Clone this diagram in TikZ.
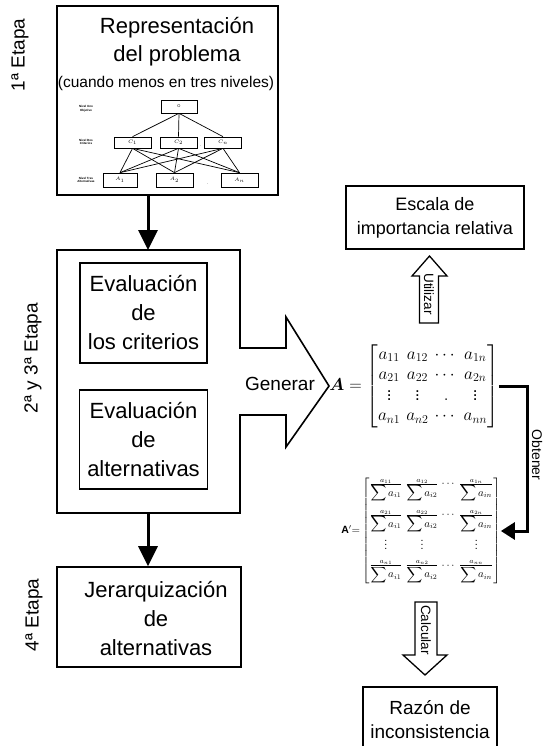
\documentclass[tikz,border=0pt]{standalone}
\usepackage{amsmath}
\usepackage{bm}
\usepackage{fontspec}
\setmainfont{Liberation Sans}
\usetikzlibrary{arrows.meta}

\begin{document}
\begin{tikzpicture}[x=1pt,y=-1pt,
    caja/.style={draw,line width=1.6pt,align=center,inner sep=0pt},
    minicaja/.style={draw,line width=0.7pt,inner sep=0pt,minimum width=37pt,minimum height=11pt,font=\fontsize{4}{4}\selectfont},
    nivel/.style={align=center,font=\fontsize{3}{3.6}\selectfont\bfseries},
    texto/.style={align=center,font=\fontsize{22}{29}\selectfont},
    etapa/.style={rotate=90,font=\fontsize{19}{19}\selectfont},
    flecha/.style={line width=3pt,-{Triangle[width=19pt,length=20pt]}},
    hueca/.style={draw,line width=1.3pt,line join=miter}]
  \useasboundingbox (0,0) rectangle (545,746);

  % etapas
  \node[etapa] (e1) at (20,55) {1ª Etapa};
  \node[etapa] (e2) at (33,358) {2ª y 3ª Etapa};
  \node[etapa] (e4) at (34,615) {4ª Etapa};

  % 1a etapa: representacion del problema
  \node[caja,minimum width=221pt,minimum height=189pt] (prob) at (167.5,100.5) {};
  \node[texto,font=\fontsize{22}{28}\selectfont] (titulo) at (177,42) {Representación\\del problema};
  \node[font=\fontsize{15.5}{18}\selectfont] (subtit) at (166,83) {(cuando menos en tres niveles)};
  \node[nivel] (n1) at (86,109) {Nivel Uno\\Objetivo};
  \node[nivel] (n2) at (86,142) {Nivel Dos\\Criterios};
  \node[nivel] (n3) at (86,180) {Nivel Tres\\Alternativas};
  \node[minicaja,minimum width=36pt,minimum height=13pt] (obj) at (179,106.5) {O};
  \node[minicaja] (c1) at (132.5,142.5) {$C_1$};
  \node[minicaja] (c2) at (178.5,142.5) {$C_2$};
  \node[minicaja] (c3) at (223,142.5) {$C_n$};
  \node[minicaja,minimum width=34pt,minimum height=14pt] (a1) at (120,180) {$A_1$};
  \node[minicaja,minimum width=37pt,minimum height=14pt] (a2) at (174.5,180) {$A_2$};
  \node[minicaja,minimum width=37pt,minimum height=14pt] (a3) at (239.5,180) {$A_n$};
  \node[font=\fontsize{4}{4}\selectfont] (p1) at (201,146) {.};
  \node[font=\fontsize{4}{4}\selectfont] (p2) at (208,184) {.};
  \foreach \c in {c1,c2,c3}
    \draw[line width=0.7pt] (obj.south) -- (\c.north);
  \foreach \c in {c1,c2,c3}
    \foreach \a in {a1,a2,a3}
      \draw[line width=0.7pt] (\c.south) -- (\a.north);

  % 2a y 3a etapa: evaluacion
  \draw[line width=1.6pt,line join=miter] (57,250) -- (240,250) -- (240,348) -- (286,348) -- (286,317)
    -- (329,386) -- (286,447) -- (286,415) -- (240,415) -- (240,513) -- (57,513) -- cycle;
  \coordinate (evalarriba) at (148,250);
  \coordinate (evalabajo) at (148,513);
  \node[caja,texto,minimum width=127pt,minimum height=100pt] (crit) at (143.5,313) {Evaluación\\de\\los criterios};
  \node[caja,texto,minimum width=128pt,minimum height=99pt] (alt) at (143.5,439.5) {Evaluación\\de\\alternativas};
  \node[font=\fontsize{19}{19}\selectfont] (generar) at (280,384) {Generar};

  % 4a etapa
  \node[caja,minimum width=184pt,minimum height=100pt] (jerarq) at (149,617) {};
  \node[texto] (jerarqtxt) at (156,618) {Jerarquización\\de\\alternativas};

  \draw[flecha] (evalarriba |- prob.south) -- (evalarriba);
  \draw[flecha] (evalabajo) -- (evalabajo |- jerarq.north);

  % matrices
  \node[inner sep=0pt,font=\fontsize{17}{20}\selectfont\setlength{\arraycolsep}{3pt}] (matA) at (414,386)
    {$\bm{A}=\begin{bmatrix} a_{11} & a_{12} & \cdots & a_{1n}\\ a_{21} & a_{22} & \cdots & a_{2n}\\ \vdots & \vdots & . & \vdots\\ a_{n1} & a_{n2} & \cdots & a_{nn}\end{bmatrix}$};
  \node[inner sep=0pt,font=\fontsize{10.5}{12}\selectfont\setlength{\arraycolsep}{1.5pt}] (matAp) at (421,531)
    {$\mathbf{A'}{=}\begin{bmatrix}
      \frac{a_{11}}{\displaystyle\sum a_{i1}} & \frac{a_{12}}{\displaystyle\sum a_{i2}} & \cdots & \frac{a_{1n}}{\displaystyle\sum a_{in}}\\[19pt]
      \frac{a_{21}}{\displaystyle\sum a_{i1}} & \frac{a_{22}}{\displaystyle\sum a_{i2}} & \cdots & \frac{a_{2n}}{\displaystyle\sum a_{in}}\\[13pt]
      \vdots & \vdots & & \vdots\\[7pt]
      \frac{a_{n1}}{\displaystyle\sum a_{i1}} & \frac{a_{n2}}{\displaystyle\sum a_{i2}} & \cdots & \frac{a_{nn}}{\displaystyle\sum a_{in}}
    \end{bmatrix}$};

  % lado derecho
  \node[caja,minimum width=178pt,minimum height=63pt,font=\fontsize{18}{24}\selectfont] (escala) at (435,217.5) {Escala de\\importancia relativa};
  \node[caja,minimum width=134pt,minimum height=66pt,font=\fontsize{19}{24}\selectfont] (razon) at (430,720) {Razón de\\inconsistencia};

  \path[hueca] (419.5,323) -- (419.5,276) -- (412,276) -- (429.5,256) -- (447,276) -- (438.5,276) -- (438.5,323) -- cycle;
  \node[rotate=-90,font=\fontsize{13.5}{13.5}\selectfont] (utilizar) at (429,294) {Utilizar};
  \path[hueca] (415,602) -- (415,655) -- (403,655) -- (425,675) -- (447,655) -- (437,655) -- (437,602) -- cycle;
  \node[rotate=-90,font=\fontsize{13.5}{13.5}\selectfont] (calcular) at (426,630) {Calcular};

  \draw[line width=3pt,-{Triangle[width=17pt,length=14pt]}] (matA.east) -- ++(29,0) |- (matAp.east);
  \node[rotate=-90,font=\fontsize{14}{14}\selectfont] (obtener) at (537,455) {Obtener};
\end{tikzpicture}
\end{document}
